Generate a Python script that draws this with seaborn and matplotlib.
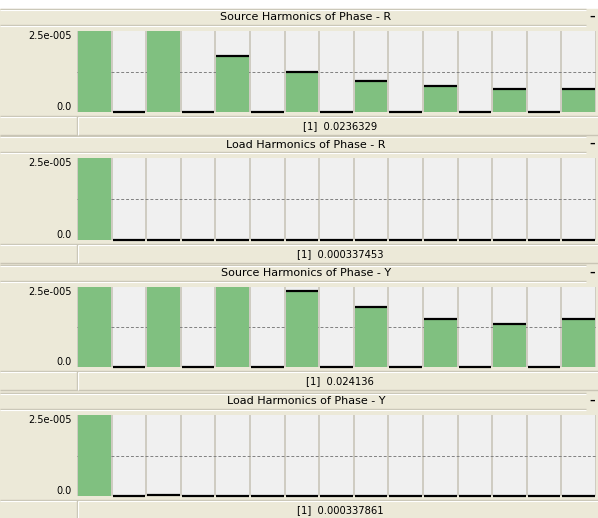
import numpy as np
import pandas as pd
import seaborn as sns
import matplotlib.pyplot as plt
from matplotlib.patches import Rectangle

# harmonic order 1..15, values in per-unit, display capped at 2.5e-005
harmonics = list(range(1, 16))
y_cap = 2.5e-5

source_r = [0.0236329, 0, 4.2e-5, 0, 1.74e-5, 0, 1.25e-5, 0,
            0.97e-5, 0, 0.80e-5, 0, 0.72e-5, 0, 0.72e-5]
load_r = [0.000337453, 0, 0, 0, 0, 0, 0, 0, 0, 0, 0, 0, 0, 0, 0]
source_y = [0.024136, 0, 4.5e-5, 0, 3.1e-5, 0, 2.38e-5, 0,
            1.87e-5, 0, 1.49e-5, 0, 1.33e-5, 0, 1.49e-5]
load_y = [0.000337861, 0, 0.04e-5, 0, 0, 0, 0, 0, 0, 0, 0, 0, 0, 0, 0]

titles = ['Source Harmonics of Phase - R', 'Load Harmonics of Phase - R',
          'Source Harmonics of Phase - Y', 'Load Harmonics of Phase - Y']
footers = ['[1]  0.0236329', '[1]  0.000337453', '[1]  0.024136', '[1]  0.000337861']
series = [source_r, load_r, source_y, load_y]

W, H = 598, 518
plot_tops = [31, 158, 287, 415]
plot_bots = [112, 240, 367, 496]

BEIGE = '#ECE9D8'
EDGE = '#C9C5B5'
GREEN = '#80C080'
COLBG = '#F0F0F0'

fig = plt.figure(figsize=(W / 100, H / 100), dpi=100)
fig.patch.set_facecolor('white')

bg = fig.add_axes([0, 0, 1, 1])
bg.set_xlim(0, W)
bg.set_ylim(H, 0)
bg.axis('off')
bg.add_patch(Rectangle((0, 9), W, H - 9, color=BEIGE, zorder=0))


def px_axes(x0, y0, x1, y1):
    return fig.add_axes([x0 / W, 1 - y1 / H, (x1 - x0) / W, (y1 - y0) / H])


for title, footer, vals, top, bot in zip(titles, footers, series, plot_tops, plot_bots):
    # title bar
    t0, t1 = top - 22, top - 6
    bg.hlines([t0, t1], 0, 586, color=EDGE, lw=1)
    bg.hlines([t0 + 1, t1 + 1], 0, 586, color='white', lw=0.8)
    bg.text(306, (t0 + t1) / 2 + 0.5, title, ha='center', va='center', fontsize=8, color='black')
    bg.text(592, (t0 + t1) / 2, '\u2013', ha='center', va='center', fontsize=8, fontweight='bold')

    # footer bar
    f0, f1 = bot + 4, bot + 23
    bg.hlines([f0, f1], 0, W, color=EDGE, lw=1)
    bg.hlines([f0 + 1], 0, W, color='white', lw=0.8)
    bg.vlines(77, f0, f1, color=EDGE, lw=1)
    bg.vlines(78, f0 + 1, f1, color='white', lw=0.8)
    bg.text(340, (f0 + f1) / 2 + 0.5, footer, ha='center', va='center', fontsize=7.2)

    ax = px_axes(77, top, 596, bot)
    ax.set_facecolor('#CFCCC2')
    sns.barplot(x=harmonics, y=[y_cap] * len(harmonics), color=COLBG, width=0.94,
                saturation=1, errorbar=None, ax=ax, zorder=1)
    ax.axhline(y_cap / 2, color='#808080', ls=(0, (3, 2)), lw=0.7, zorder=2)
    sns.barplot(x=harmonics, y=np.minimum(vals, y_cap), color=GREEN, width=0.94,
                saturation=1, errorbar=None, ax=ax, zorder=3)
    for i, v in enumerate(vals):
        if v <= y_cap:
            ax.hlines(v, i - 0.47, i + 0.47, color='black', lw=1.6, zorder=4, clip_on=False)

    ax.set_xlim(-0.5, len(harmonics) - 0.5)
    ax.set_ylim(0, y_cap)
    ax.set_xticks([])
    ax.set_yticks([0, y_cap])
    ax.set_yticklabels(['0.0', '2.5e-005'])
    labels = ax.get_yticklabels()
    labels[0].set_va('bottom')
    labels[1].set_va('top')
    ax.tick_params(axis='y', length=0, pad=4, labelsize=7)
    ax.set_xlabel('')
    ax.set_ylabel('')
    for s in ax.spines.values():
        s.set_visible(False)

fig.savefig('out.png', dpi=100)
